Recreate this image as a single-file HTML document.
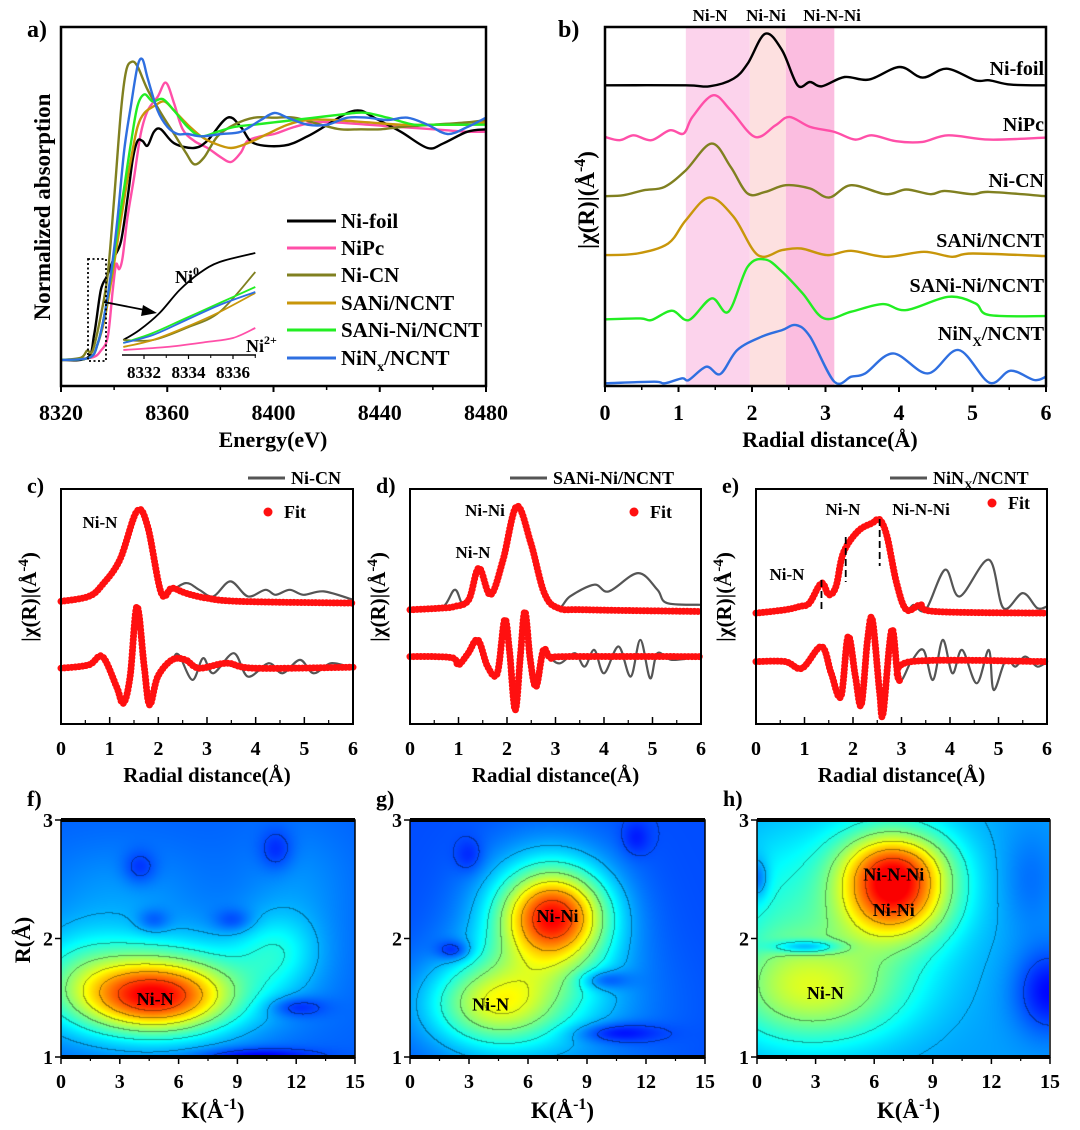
<!DOCTYPE html>
<html><head><meta charset="utf-8">
<style>
html,body{margin:0;padding:0;background:#fff;}
#wrap{position:relative;width:1080px;height:1130px;overflow:hidden;font-family:"Liberation Serif",serif;}
canvas{position:absolute;}
svg{position:absolute;left:0;top:0;}
text{font-family:"Liberation Serif",serif;font-weight:bold;fill:#000;}
</style></head>
<body>
<div id="wrap">
<canvas id="hf" width="294" height="237" style="left:61px;top:820px"></canvas>
<canvas id="hg" width="295" height="237" style="left:410px;top:820px"></canvas>
<canvas id="hh" width="292" height="237" style="left:757px;top:820px"></canvas>
<svg id="svg" width="1080" height="1130" xmlns="http://www.w3.org/2000/svg"></svg>
</div>
<script>
// ===== Panel a data (XANES) =====
const aFoilE=[8320,8330,8332.5,8335,8337.3,8340,8342.6,8345,8347,8348.8,8350.7,8352.6,8355,8357.6,8362.6,8370,8375,8382.7,8387.7,8392.7,8404,8412.8,8420.3,8427.8,8432.9,8437.9,8447.9,8458,8464,8473,8480];
const aFoilV=[0,0.01,0.11,0.30,0.36,0.44,0.51,0.69,0.86,0.94,0.94,0.92,0.98,0.99,0.93,0.91,0.94,1.04,1.0,0.93,0.92,0.96,1.01,1.06,1.07,1.04,0.98,0.91,0.93,0.98,0.99];
const aPcE=[8320,8331.3,8335,8337.6,8339.4,8340.7,8341.9,8343.2,8345,8347.6,8350,8352.6,8356.4,8359.5,8362.6,8365.8,8370.2,8375.2,8380.2,8384,8387.7,8390.2,8395.2,8400.3,8407.8,8415.3,8422.8,8435.4,8447.9,8460.4,8473,8480];
const aPcV=[0,0.01,0.04,0.10,0.29,0.41,0.39,0.44,0.61,0.79,0.97,1.07,1.13,1.19,1.10,0.99,0.94,0.91,0.87,0.85,0.89,0.94,0.96,0.97,1.0,1.02,1.02,1.01,1.0,0.99,0.98,0.98];
const aCnE=[8320,8327.5,8329.8,8331.9,8335,8337.6,8340,8342.6,8344.5,8346.6,8348.8,8352.6,8357.6,8362.6,8367,8370.2,8373.9,8378.9,8385.2,8392.7,8400.3,8407.8,8417.8,8425.3,8432.9,8440.4,8447.9,8460.4,8473,8480];
const aCnV=[0,0.01,0.04,0.04,0.19,0.37,0.69,1.07,1.24,1.28,1.26,1.16,1.06,0.97,0.89,0.84,0.87,0.96,1.01,1.04,1.04,1.04,1.01,0.99,0.99,0.99,1.0,1.01,1.02,1.03];
const aSaE=[8320,8330.7,8333.8,8336.3,8338.8,8341.3,8343.8,8346.3,8348.8,8351.4,8355.1,8358.9,8362.6,8367.7,8372.7,8377.7,8384,8390.2,8397.7,8405.3,8412.8,8422.8,8435.4,8447.9,8460.4,8473,8480];
const aSaV=[0,0.01,0.07,0.17,0.33,0.51,0.69,0.86,1.0,1.06,1.09,1.11,1.07,1.01,0.96,0.93,0.91,0.93,0.97,1.01,1.03,1.03,1.02,1.01,1.01,1.01,1.02];
const aSnE=[8320,8330.7,8333.8,8336.3,8338.8,8341.3,8343.8,8346.3,8348.8,8351.4,8354.5,8358.3,8362.6,8367.7,8372.7,8379,8385.2,8392.7,8400.3,8407.8,8415.3,8422.8,8430.3,8435.4,8442.9,8452.9,8460.4,8473,8480];
const aSnV=[0,0.01,0.07,0.19,0.36,0.56,0.74,0.93,1.09,1.14,1.11,1.12,1.07,1.0,0.96,0.98,1.0,1.01,1.02,1.03,1.04,1.05,1.06,1.06,1.04,1.01,1.01,1.01,1.01];
const aNxE=[8320,8330.7,8333.8,8336.3,8338.8,8341.3,8343.8,8346.3,8348.8,8350.7,8352.6,8356.4,8360.1,8363.9,8367.7,8372.7,8380.2,8387.7,8395.2,8400.3,8405.3,8412.8,8420.3,8427.8,8435.4,8442.9,8450.4,8458,8465.5,8473,8480];
const aNxV=[0,0.01,0.07,0.19,0.37,0.61,0.90,1.09,1.26,1.29,1.21,1.07,1.0,0.97,0.97,0.96,0.97,0.98,1.03,1.06,1.04,1.01,1.01,1.04,1.04,1.03,1.04,1.01,0.97,1.0,1.04];
// inset
const inE=[8331.07,8331.8,8332.7,8333.6,8334.5,8335.4,8337];
const inFoil=[0.15,0.25,0.42,0.65,0.82,0.93,1.02];
const inE5=[8331.07,8332.4,8333.9,8335.4,8337];
const inCn=[0.15,0.15,0.27,0.43,0.83];
const inSn=[0.12,0.22,0.37,0.52,0.68];
const inNx=[0.12,0.20,0.35,0.50,0.63];
const inSa=[0.08,0.15,0.28,0.43,0.62];
const inPcE=[8331.07,8333,8334.8,8336,8337];
const inPc=[0.05,0.08,0.13,0.17,0.27];
const aTicks=[8320,8360,8400,8440,8480];
const inTicks=[8332,8334,8336];
const aLegend=["Ni-foil","NiPc","Ni-CN","SANi/NCNT","SANi-Ni/NCNT","NiNx/NCNT"];

// ===== Panel b data (FT-EXAFS stacked) =====
const bFoilR=[0,1.10,1.42,1.75,1.94,2.18,2.41,2.62,2.79,2.95,3.26,3.59,4.01,4.32,4.65,5.04,5.23,5.52,6];
const bFoilV=[9.15,9.15,9.12,9.35,9.8,10.7,10.2,9.15,9.25,9.12,9.4,9.32,9.7,9.38,9.65,9.3,9.3,9.17,9.15];
const bPcR=[0,0.2,0.39,0.63,0.88,1.07,1.19,1.47,1.71,2.04,2.32,2.51,2.79,3.12,3.4,3.63,3.96,4.32,4.67,5.23,6];
const bPcV=[7.6,7.5,7.65,7.5,7.8,7.7,8.2,8.85,8.4,7.6,7.95,8.2,7.9,7.75,7.52,7.65,7.47,7.45,7.65,7.52,7.58];
const bCnR=[0,0.25,0.53,0.81,1.1,1.45,1.71,1.94,2.18,2.46,2.79,3.05,3.35,3.82,4.1,4.43,4.62,5.0,5.23,6];
const bCnV=[5.82,5.85,6.0,6.1,6.6,7.4,6.7,5.9,5.95,6.15,6.05,5.78,6.15,5.88,6.02,5.88,5.98,5.88,5.95,5.82];
const bSaR=[0,0.44,0.86,1.1,1.42,1.75,2.08,2.41,2.67,3.02,3.35,3.82,4.34,4.72,5.0,6];
const bSaV=[4.05,4.1,4.4,5.1,5.78,5.2,4.05,4.2,4.25,4.05,4.18,4.0,4.15,4.0,4.1,4.02];
const bSnR=[0,0.48,0.63,0.91,1.14,1.45,1.68,1.94,2.18,2.41,2.69,2.98,3.35,3.78,4.1,4.67,5.04,5.23,6];
const bSnV=[2.12,2.15,2.1,2.38,2.1,2.75,2.35,3.7,3.92,3.55,2.9,2.15,2.35,2.58,2.4,2.8,2.6,2.25,2.22];
const bNxR=[0,0.67,0.81,1.05,1.14,1.38,1.57,1.8,2.13,2.41,2.6,2.79,3.12,3.35,3.54,3.92,4.39,4.81,5.23,5.52,5.84,6];
const bNxV=[0.2,0.25,0.2,0.35,0.3,0.7,0.48,1.2,1.6,1.8,1.95,1.6,0.25,0.4,0.5,1.1,0.5,1.2,0.22,0.58,0.3,0.4];
const bBands=[1.10,1.97,2.46,3.12];
const bBandLabels=["Ni-N","Ni-Ni","Ni-N-Ni"];
const rTicks=[0,1,2,3,4,5,6];

// ===== Panels c-e data (fits) =====
const cMagR=[0,0.57,0.85,1.21,1.56,1.78,2.06,2.2,2.56,2.84,3.13,3.48,3.84,4.2,4.41,4.7,4.98,5.4,6];
const cMagV=[3.75,3.9,4.25,5.0,6.45,6.0,4.0,4.0,4.3,4.1,3.9,4.35,3.9,4.1,3.95,4.1,3.95,4.05,3.8];
const cMagFR=[0,0.57,0.85,1.21,1.56,1.78,2.06,2.28,2.56,2.99,3.7,6];
const cMagFV=[3.75,3.9,4.25,5.0,6.45,6.0,4.0,4.15,4.0,3.85,3.75,3.7];
const cReR=[0,0.57,0.85,1.14,1.28,1.42,1.56,1.71,1.82,1.99,2.28,2.42,2.7,2.92,3.13,3.55,3.84,4.27,4.55,4.91,5.19,5.55,6];
const cReV=[1.75,1.85,2.1,1.2,0.7,1.5,3.6,1.8,0.65,1.5,2.0,2.15,1.4,2.05,1.6,2.2,1.5,1.9,1.6,2.0,1.6,1.9,1.75];
const cReFR=[0,0.57,0.85,1.14,1.28,1.42,1.56,1.71,1.82,1.99,2.28,2.56,2.84,3.41,3.98,6];
const cReFV=[1.75,1.85,2.1,1.2,0.7,1.5,3.6,1.8,0.65,1.5,2.0,2.0,1.75,1.9,1.75,1.78];

const dMagR=[0,0.64,0.92,1.07,1.21,1.42,1.66,1.92,2.2,2.49,2.77,3.06,3.3,3.8,4.1,4.7,5.1,5.3,6];
const dMagV=[3.5,3.55,4.1,3.7,3.8,4.75,3.95,5.0,6.6,5.5,4.0,3.55,3.9,4.25,4.05,4.6,4.1,3.7,3.65];
const dMagFR=[0,0.64,0.92,1.21,1.42,1.66,1.92,2.2,2.49,2.77,3.06,3.63,6];
const dMagFV=[3.5,3.55,3.6,3.8,4.75,3.95,5.0,6.6,5.5,4.0,3.55,3.5,3.45];
const dReR=[0,0.5,0.9,1.0,1.2,1.4,1.6,1.8,1.95,2.05,2.17,2.28,2.37,2.48,2.6,2.75,2.9,3.1,3.4,3.6,3.8,4.0,4.3,4.55,4.75,4.95,5.1,5.4,6];
const dReV=[2.1,2.1,2.05,1.85,2.2,2.6,1.8,1.6,3.2,2.3,0.5,2.2,3.45,2.0,1.2,2.3,2.05,1.9,2.2,1.8,2.3,1.6,2.4,1.5,2.6,1.45,2.2,2.0,2.1];
const dReFR=[0,0.5,0.9,1.0,1.2,1.4,1.6,1.8,1.95,2.05,2.17,2.28,2.37,2.48,2.6,2.75,2.9,3.2,6];
const dReFV=[2.1,2.1,2.05,1.85,2.2,2.6,1.8,1.6,3.2,2.3,0.5,2.2,3.45,2.0,1.2,2.3,2.05,2.1,2.1];

const eMagR=[0,0.6,0.9,1.1,1.35,1.5,1.65,1.8,2.1,2.4,2.55,2.7,2.9,3.1,3.25,3.5,3.9,4.2,4.8,5.1,5.5,5.8,6];
const eMagV=[3.4,3.5,3.6,3.7,4.3,3.95,4.2,5.2,5.85,6.1,6.2,5.7,4.3,3.5,3.65,3.5,4.7,3.9,5.0,3.55,4.0,3.55,3.6];
const eMagFR=[0,0.6,0.9,1.1,1.35,1.5,1.65,1.8,2.1,2.4,2.55,2.7,2.9,3.1,3.4,3.7,6];
const eMagFV=[3.4,3.5,3.6,3.7,4.3,3.95,4.2,5.2,5.85,6.1,6.2,5.7,4.3,3.5,3.65,3.45,3.4];
const eReR=[0,0.6,0.95,1.35,1.55,1.75,1.9,2.05,2.17,2.3,2.4,2.55,2.62,2.8,2.95,3.2,3.45,3.65,3.85,4.05,4.25,4.55,4.8,4.9,5.15,5.35,5.55,5.8,6];
const eReV=[1.95,1.95,1.75,2.4,1.6,0.9,2.7,1.5,0.65,2.6,3.2,1.0,0.4,2.9,1.4,1.95,2.3,1.4,2.6,1.6,2.3,1.3,2.3,1.1,2.0,1.8,2.1,1.8,1.95];
const eReFR=[0,0.6,0.95,1.35,1.55,1.75,1.9,2.05,2.17,2.3,2.4,2.55,2.62,2.8,2.95,3.2,6];
const eReFV=[1.95,1.95,1.75,2.4,1.6,0.9,2.7,1.5,0.65,2.6,3.2,1.0,0.4,2.9,1.4,1.95,1.95];
const eMarkers=[1.35,1.85,2.55];

// ===== Panels f-h (wavelet transform peaks: k, R, amplitude, sigmaK, sigmaR) =====
const fBase=0.22;
const fPeaks=[[4.8,1.5,0.45,2.6,0.21],[5,1.6,0.22,4,0.3],[11,1.9,0.12,1.5,0.22],[1,1.7,0.1,2,0.3],[3,2.4,0.05,3,0.3],[12,2.4,0.05,2,0.4],
 [4,2.6,-0.08,0.6,0.1],[4.7,2.15,-0.08,0.6,0.07],[8.8,2.15,-0.08,0.7,0.07],[11,2.75,-0.08,0.6,0.12],[12,1.42,-0.1,1,0.06],[10,1.0,-0.12,2,0.05]];
const gBase=0.2;
const gPeaks=[[7.3,2.2,0.45,1.8,0.26],[7,2.1,0.22,2.5,0.45],[4.2,1.45,0.27,2.2,0.24],[6,1.4,0.12,4,0.4],
 [2.2,1.9,-0.12,0.6,0.06],[9.8,1.65,-0.12,0.9,0.06],[10.5,1.2,-0.12,1.5,0.06],[3,2.7,-0.06,0.5,0.1],[11.5,2.85,-0.06,0.5,0.1]];
const hBase=0.28;
const hPeaks=[[7,2.3,0.32,1.9,0.22],[7,2.62,0.32,1.9,0.2],[6.8,2.4,0.17,2.8,0.5],[3,1.55,0.27,3.2,0.32],[1,2.2,0.1,2,0.5],
 [2.5,1.93,-0.2,1.2,0.04],[15,1.55,-0.15,1.2,0.25],[0,2.5,-0.12,0.4,0.12],[14,2.5,-0.05,1,0.3]];
const kTicks=[0,3,6,9,12,15];
const wrTicks=[1,2,3];

const NS="http://www.w3.org/2000/svg";
const svg=document.getElementById('svg');
function el(tag,attrs,parent){const e=document.createElementNS(NS,tag);for(const k in attrs)e.setAttribute(k,attrs[k]);(parent||svg).appendChild(e);return e;}
function txt(x,y,s,size,anchor,parent){const t=el('text',{x:x,y:y,'font-size':size,'text-anchor':anchor||'middle'},parent);t.textContent=s;return t;}
function smooth(pts){let d='M'+pts[0][0].toFixed(1)+','+pts[0][1].toFixed(1);
 for(let i=0;i<pts.length-1;i++){const p0=pts[i-1]||pts[i],p1=pts[i],p2=pts[i+1],p3=pts[i+2]||p2;
  const c1=[p1[0]+(p2[0]-p0[0])/6,p1[1]+(p2[1]-p0[1])/6],c2=[p2[0]-(p3[0]-p1[0])/6,p2[1]-(p3[1]-p1[1])/6];
  d+='C'+c1[0].toFixed(1)+','+c1[1].toFixed(1)+' '+c2[0].toFixed(1)+','+c2[1].toFixed(1)+' '+p2[0].toFixed(1)+','+p2[1].toFixed(1);}
 return d;}
function linear(d0,d1,r0,r1){return v=>r0+(v-d0)/(d1-d0)*(r1-r0);}
function line(xs,ys,sx,sy,color,w,name,g){const p=el('path',{d:smooth(xs.map((x,i)=>[sx(x),sy(ys[i])])),fill:'none',stroke:color,'stroke-width':w,'stroke-linejoin':'round'},g);
 
 return p;}
function dots(xs,ys,sx,sy,name,g){const p=el('path',{d:smooth(xs.map((x,i)=>[sx(x),sy(ys[i])])),fill:'none',stroke:'#ff1010','stroke-width':7,'stroke-linecap':'round','stroke-dasharray':'0 3.6'},g);
 
 return p;}
function frame(x0,y0,x1,y1,name,w){const r=el('rect',{x:x0,y:y0,width:x1-x0,height:y1-y0,fill:'none',stroke:'#000','stroke-width':w||2.5});
 
 }

// ===== Panel a =====
(function(){
 const g=el('g',{});
 
 
 const sx=linear(8320,8480,61,486), sy=linear(0,1,360,127);
 const cols=['#000','#ff4fa8','#808020','#c8960a','#22ee22','#2f6fe0'];
 const sets=[[aFoilE,aFoilV],[aPcE,aPcV],[aCnE,aCnV],[aSaE,aSaV],[aSnE,aSnV],[aNxE,aNxV]];
 const order=[1,0,2,3,4,5];
 order.forEach(i=>line(sets[i][0],sets[i][1],sx,sy,cols[i],2.4,'xanes-line-'+i,g));
 frame(61,27,486,386,'panel-a-frame');
 aTicks.forEach(t=>{el('line',{x1:sx(t),x2:sx(t),y1:386,y2:392,stroke:'#000','stroke-width':2},g);
  const l=txt(sx(t),420,String(t),22,'middle',g);
  
  });
 [8340,8380,8420,8460].forEach(t=>el('line',{x1:sx(t),x2:sx(t),y1:386,y2:390,stroke:'#000','stroke-width':1.5},g));
 const xt=txt(273,447,'Energy(eV)',22,'middle',g);
 
 
 const yt=txt(0,0,'Normalized absorption',23,'middle',g);
 yt.setAttribute('transform','translate(50,207) rotate(-90)');
 
 
 const pl=txt(27,37,'a)',24,'start',g);
 
 
 el('rect',{x:88,y:259,width:18,height:102,fill:'none',stroke:'#000','stroke-width':1.8,'stroke-dasharray':'2 2.5'},g);
 el('line',{x1:104,x2:150,y1:302,y2:311,stroke:'#000','stroke-width':1.8},g);
 el('polygon',{points:'157,313 143,305 141,316',fill:'#000'},g);
 const ix=linear(8332,8336,144,233), iy=linear(0,1,355,255);
 line(inE,inFoil,ix,iy,'#000',1.8,'inset-foil',g);
 line(inPcE,inPc,ix,iy,'#ff4fa8',1.8,'inset-nipc',g);
 line(inE5,inCn,ix,iy,'#808020',1.8,'inset-nicn',g);
 line(inE5,inSa,ix,iy,'#c8960a',1.8,'inset-sani',g);
 line(inE5,inSn,ix,iy,'#22ee22',1.8,'inset-sanini',g);
 line(inE5,inNx,ix,iy,'#2f6fe0',1.8,'inset-ninx',g);
 el('line',{x1:122,x2:256,y1:355,y2:355,stroke:'#000','stroke-width':1.5},g);
 inTicks.forEach(t=>{el('line',{x1:ix(t),x2:ix(t),y1:355,y2:359,stroke:'#000','stroke-width':1.2},g);
  txt(ix(t),378,String(t),17,'middle',g);});
 [8333,8335,8337].forEach(t=>el('line',{x1:ix(t),x2:ix(t),y1:355,y2:358,stroke:'#000','stroke-width':1},g));
 const n0=txt(175,283,'Ni',18,'start',g); const s0=el('tspan',{dy:-8,'font-size':12},n0); s0.textContent='0';
 const n2=txt(246,352,'Ni',18,'start',g); const s2=el('tspan',{dy:-8,'font-size':12},n2); s2.textContent='2+';
 const ly=[221,248,275,303,330,358];
 aLegend.forEach((s,i)=>{const lg=el('g',{},g);
  
  
  el('line',{x1:287,x2:336,y1:ly[i],y2:ly[i],stroke:cols[i],'stroke-width':3},lg);
  const t=txt(341,ly[i]+7,'',21,'start',lg);
  if(s==='NiNx/NCNT'){t.appendChild(document.createTextNode('NiN'));const sb=el('tspan',{dy:6,'font-size':14},t);sb.textContent='x';const r=el('tspan',{dy:-6},t);r.textContent='/NCNT';}
  else t.textContent=s;});
})();

// ===== Panel b =====
(function(){
 const g=el('g',{});
 
 
 const sx=linear(0,6,605,1046), sy=linear(0,1,390,356.7);
 const bandCols=['#fcd3ec','#fde0e0','#fbbde0'];
 for(let i=0;i<3;i++){const r=el('rect',{x:sx(bBands[i]),y:27,width:sx(bBands[i+1])-sx(bBands[i]),height:359,fill:bandCols[i]},g);
  
  
  txt(sx([1.43,2.19,3.09][i]),21,bBandLabels[i],17,'middle',g);}
 const cols=['#000','#ff4fa8','#808020','#c8960a','#22ee22','#2f6fe0'];
 const sets=[[bFoilR,bFoilV],[bPcR,bPcV],[bCnR,bCnV],[bSaR,bSaV],[bSnR,bSnV],[bNxR,bNxV]];
 sets.forEach((s,i)=>line(s[0],s[1],sx,sy,cols[i],2.4,'ft-line-'+i,g));
 frame(605,27,1046,386,'panel-b-frame');
 rTicks.forEach(t=>{el('line',{x1:sx(t),x2:sx(t),y1:386,y2:392,stroke:'#000','stroke-width':2},g);
  txt(sx(t),420,String(t),22,'middle',g);});
 [0.5,1.5,2.5,3.5,4.5,5.5].forEach(t=>el('line',{x1:sx(t),x2:sx(t),y1:386,y2:390,stroke:'#000','stroke-width':1.5},g));
 const xt=txt(830,447,'Radial distance(Å)',22,'middle',g);
 
 
 const yt=txt(0,0,'|χ(R)|(Å',23,'middle',g);
 const sp=el('tspan',{dy:-9,'font-size':16},yt);sp.textContent='-4';
 const sp2=el('tspan',{dy:9},yt);sp2.textContent=')';
 yt.setAttribute('transform','translate(594,200) rotate(-90)');
 
 
 txt(558,37,'b)',24,'start',g);
 const labs=[['Ni-foil',75],['NiPc',131],['Ni-CN',187],['SANi/NCNT',247],['SANi-Ni/NCNT',292]];
 labs.forEach(l=>{const t=txt(1044,l[1],l[0],20,'end',g);
  
  });
 const t=txt(1044,340,'NiN',20,'end',g);const s=el('tspan',{dy:6,'font-size':13},t);s.textContent='X';const r=el('tspan',{dy:-6},t);r.textContent='/NCNT';
})();

// ===== Panels c-e =====
function fitPanel(x0,x1,letter,magR,magV,magFR,magFV,reR,reV,reFR,reFV,legendText,legX,fitX,fitY){
 const g=el('g',{});
 
 
 const sx=linear(0,6,x0,x1), sy=linear(0,1,726.7,693.3);
 line(magR,magV,sx,sy,'#555',2.2,'data-magnitude',g);
 line(reR,reV,sx,sy,'#555',2.2,'data-real',g);
 dots(magFR,magFV,sx,sy,'fit-magnitude',g);
 dots(reFR,reFV,sx,sy,'fit-real',g);
 frame(x0,489,x1,724,'panel-'+letter+'-frame',2);
 rTicks.forEach(t=>{el('line',{x1:sx(t),x2:sx(t),y1:724,y2:717,stroke:'#000','stroke-width':1.5},g);
  txt(sx(t),755,String(t),20,'middle',g);});
 [0.5,1.5,2.5,3.5,4.5,5.5].forEach(t=>el('line',{x1:sx(t),x2:sx(t),y1:724,y2:720,stroke:'#000','stroke-width':1.2},g));
 const xt=txt((x0+x1)/2,782,'Radial distance(Å)',21,'middle',g);
 
 
 const yt=txt(0,0,'|χ(R)|(Å',21,'middle',g);
 const sp=el('tspan',{dy:-8,'font-size':15},yt);sp.textContent='-4';
 const sp2=el('tspan',{dy:8},yt);sp2.textContent=')';
 yt.setAttribute('transform','translate('+(x0-25)+',597) rotate(-90)');
 
 
 txt(x0-34,493,letter+')',22,'start',g);
 const lg=el('g',{},g);
 
 
 el('line',{x1:legX,x2:legX+37,y1:478,y2:478,stroke:'#555','stroke-width':3},lg);
 const lt=txt(legX+43,484,'',18,'start',lg);
 if(legendText==='NiNx/NCNT'){lt.appendChild(document.createTextNode('NiN'));const sb=el('tspan',{dy:5,'font-size':12},lt);sb.textContent='X';const r=el('tspan',{dy:-5},lt);r.textContent='/NCNT';}
 else lt.textContent=legendText;
 el('circle',{cx:fitX,cy:fitY,r:4.5,fill:'#ff1010'},lg);
 txt(fitX+16,fitY+6,'Fit',18,'start',lg);
 return {g,sx,sy};
}
const pc=fitPanel(61,353,'c',cMagR,cMagV,cMagFR,cMagFV,cReR,cReV,cReFR,cReFV,'Ni-CN',248,268,512);
txt(100,528,'Ni-N',17,'middle',pc.g);
const pd=fitPanel(410,701,'d',dMagR,dMagV,dMagFR,dMagFV,dReR,dReV,dReFR,dReFV,'SANi-Ni/NCNT',510,634,512);
txt(485,516,'Ni-Ni',17,'middle',pd.g);
txt(473,558,'Ni-N',17,'middle',pd.g);
const pe=fitPanel(756,1047,'e',eMagR,eMagV,eMagFR,eMagFV,eReR,eReV,eReFR,eReFV,'NiNx/NCNT',890,992,503);
const mTop=[580,537,519],mBot=[612,582,566];
eMarkers.forEach((r,i)=>{const m=el('line',{x1:pe.sx(r),x2:pe.sx(r),y1:mTop[i],y2:mBot[i],stroke:'#000','stroke-width':1.8,'stroke-dasharray':'7 4'},pe.g);
 
 });
txt(787,580,'Ni-N',17,'middle',pe.g);
txt(843,515,'Ni-N',17,'middle',pe.g);
txt(921,515,'Ni-N-Ni',17,'middle',pe.g);

// ===== Panels f-h heatmaps =====
function jet(t){const c=v=>Math.max(0,Math.min(1,v));return [c(1.5-Math.abs(4*t-3))*255,c(1.5-Math.abs(4*t-2))*255,c(1.5-Math.abs(4*t-1))*255];}
function drawMap(id,base,peaks){
 const cv=document.getElementById(id),ctx=cv.getContext('2d'),W=cv.width,H=cv.height;
 const img=ctx.createImageData(W,H);const L=40;const lev=new Array(W*H);
 for(let y=0;y<H;y++)for(let x=0;x<W;x++){const k=x/(W-1)*15,R=3-y/(H-1)*2;let v=base;
  for(const p of peaks){const dk=(k-p[0])/p[3],dr=(R-p[1])/p[4];v+=p[2]*Math.exp(-0.5*(dk*dk+dr*dr));}
  v=Math.max(0.05,Math.min(0.88,v));const q=Math.floor(v*L);lev[y*W+x]=q;
  const c=jet(v);const i=(y*W+x)*4;img.data[i]=c[0];img.data[i+1]=c[1];img.data[i+2]=c[2];img.data[i+3]=255;}
 for(let y=1;y<H;y++)for(let x=1;x<W;x++){const a=Math.floor(lev[y*W+x]/4),b=Math.floor(lev[y*W+x-1]/4),c=Math.floor(lev[(y-1)*W+x]/4);
  if(a!==b||a!==c){const i=(y*W+x)*4;img.data[i]*=0.65;img.data[i+1]*=0.65;img.data[i+2]*=0.65;}}
 ctx.putImageData(img,0,0);
}
drawMap('hf',fBase,fPeaks);drawMap('hg',gBase,gPeaks);drawMap('hh',hBase,hPeaks);
function mapAxes(x0,x1,letter,showY){
 const g=el('g',{});
 
 
 const sx=linear(0,15,x0,x1), sy=linear(1,3,1057,820);
 el('rect',{x:x0,y:820,width:x1-x0,height:237,fill:'none',stroke:'#000','stroke-width':1.5},g);
 el('line',{x1:x0,x2:x1,y1:820,y2:820,stroke:'#000','stroke-width':4},g);
 el('line',{x1:x0,x2:x1,y1:1057,y2:1057,stroke:'#000','stroke-width':4},g);
 kTicks.forEach(t=>{el('line',{x1:sx(t),x2:sx(t),y1:1057,y2:1064,stroke:'#000','stroke-width':1.5},g);
  txt(sx(t),1088,String(t),20,'middle',g);});
 [1.5,4.5,7.5,10.5,13.5].forEach(t=>el('line',{x1:sx(t),x2:sx(t),y1:1057,y2:1061,stroke:'#000','stroke-width':1.2},g));
 wrTicks.forEach(t=>{el('line',{x1:x0-6,x2:x0,y1:sy(t),y2:sy(t),stroke:'#000','stroke-width':1.5},g);
  txt(x0-8,sy(t)+7,String(t),20,'end',g);});
 const xt=txt((x0+x1)/2+5,1118,'K(Å',23,'middle',g);
 const s=el('tspan',{dy:-9,'font-size':16},xt);s.textContent='-1';
 const s2=el('tspan',{dy:9},xt);s2.textContent=')';
 
 
 txt(x0-34,806,letter+')',22,'start',g);
 if(showY){const yt=txt(0,0,'R(Å)',22,'middle',g);yt.setAttribute('transform','translate(30,940) rotate(-90)');
  
  }
 return {g,sx,sy};
}
const mf=mapAxes(61,355,'f',true);
txt(mf.sx(4.8),mf.sy(1.5)+7,'Ni-N',18,'middle',mf.g);
const mg=mapAxes(410,705,'g',false);
txt(mg.sx(7.5),mg.sy(2.2)+7,'Ni-Ni',18,'middle',mg.g);
txt(mg.sx(4.1),mg.sy(1.45)+7,'Ni-N',18,'middle',mg.g);
const mh=mapAxes(757,1050,'h',false);
txt(mh.sx(7),mh.sy(2.55)+7,'Ni-N-Ni',18,'middle',mh.g);
txt(mh.sx(7),mh.sy(2.25)+7,'Ni-Ni',18,'middle',mh.g);
txt(mh.sx(3.5),mh.sy(1.55)+7,'Ni-N',18,'middle',mh.g);
</script>
</body></html>
